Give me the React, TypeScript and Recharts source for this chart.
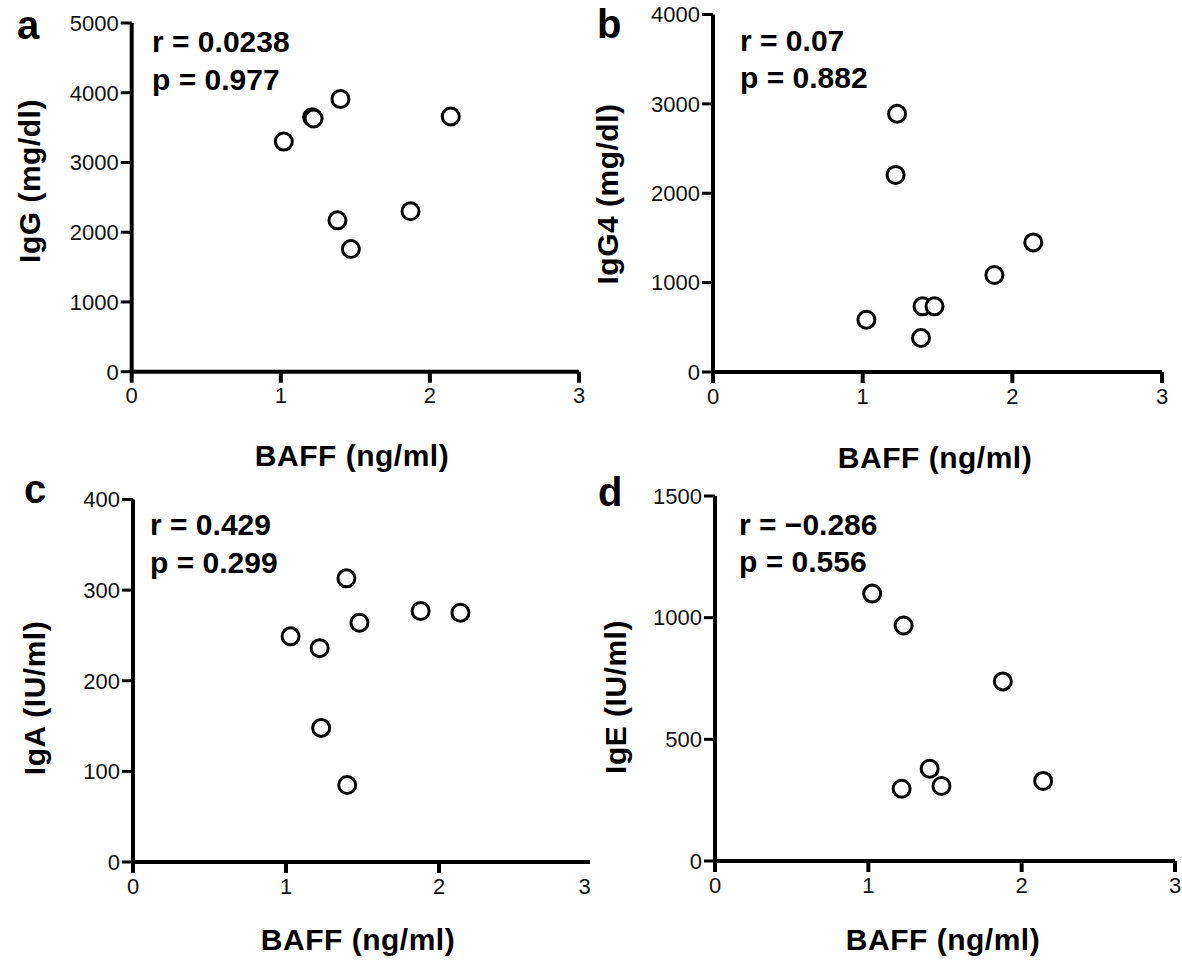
import React from "react";
import { ScatterChart, Scatter, XAxis, YAxis } from "recharts";

// BAFF (ng/ml) vs immunoglobulin levels
const baffA = [1.02, 1.21, 1.22, 1.4, 2.14, 1.38, 1.47, 1.87];
const iggA = [3300, 3650, 3630, 3910, 3660, 2170, 1760, 2300];

const baffB = [1.23, 1.22, 2.14, 1.88, 1.4, 1.48, 1.025, 1.39];
const igg4B = [2890, 2205, 1450, 1085, 735, 735, 585, 380];

const baffC = [1.395, 1.88, 2.14, 1.48, 1.03, 1.22, 1.23, 1.4];
const igaC = [313, 277, 275, 264, 249, 236, 148, 85];

const baffD = [1.025, 1.23, 1.877, 1.4, 1.477, 1.217, 2.14];
const igeD = [1099, 968, 738, 379, 308, 297, 329];

const xTicks = [0, 1, 2, 3];
const yTicksA = [0, 1000, 2000, 3000, 4000, 5000];
const yTicksB = [0, 1000, 2000, 3000, 4000];
const yTicksC = [0, 100, 200, 300, 400];
const yTicksD = [0, 500, 1000, 1500];

const FONT = '"Liberation Sans", Arial, sans-serif';

const toRows = (xs: number[], ys: number[]) => xs.map((x, i) => ({ x, y: ys[i] }));

const Ring = (props: any) => {
  const { cx, cy } = props;
  if (cx == null || cy == null) return null;
  return <circle cx={cx} cy={cy} r={8.5} fill="#fff" stroke="#000" strokeWidth={3} />;
};

type PanelProps = {
  box: { left: number; top: number; width: number; height: number };
  plot: { left: number; top: number; right: number; bottom: number };
  xs: number[];
  ys: number[];
  yTicks: number[];
};

function Panel({ box, plot, xs, ys, yTicks }: PanelProps) {
  const yMax = yTicks[yTicks.length - 1];
  const tick = { fill: "#111", fontSize: 22, fontFamily: FONT };
  return (
    <div style={{ position: "absolute", left: box.left, top: box.top }}>
      <ScatterChart
        width={box.width}
        height={box.height}
        margin={{
          top: plot.top - box.top,
          right: box.left + box.width - plot.right,
          left: 0,
          bottom: 0,
        }}
      >
        <XAxis
          type="number"
          dataKey="x"
          domain={[0, 3]}
          ticks={xTicks}
          height={box.top + box.height - plot.bottom}
          tickSize={11}
          tickMargin={5}
          tick={tick}
          axisLine={{ stroke: "#000", strokeWidth: 4 }}
          tickLine={{ stroke: "#000", strokeWidth: 4 }}
        />
        <YAxis
          type="number"
          dataKey="y"
          domain={[0, yMax]}
          ticks={yTicks}
          width={plot.left - box.left}
          tickSize={11}
          tickMargin={2}
          tick={tick}
          axisLine={{ stroke: "#000", strokeWidth: 4 }}
          tickLine={{ stroke: "#000", strokeWidth: 3 }}
        />
        <Scatter data={toRows(xs, ys)} shape={<Ring />} isAnimationActive={false} />
      </ScatterChart>
    </div>
  );
}

export default function App() {
  const bold = { fontFamily: FONT, fontWeight: 700, fill: "#000" };
  const title = { ...bold, fontSize: 30, letterSpacing: 0.5 };
  return (
    <div style={{ position: "absolute", left: 0, top: 0, width: 1182, height: 960, background: "#fff" }}>
      <Panel
        box={{ left: 0, top: 0, width: 590, height: 480 }}
        plot={{ left: 131.7, top: 23, right: 579, bottom: 371.7 }}
        xs={baffA}
        ys={iggA}
        yTicks={yTicksA}
      />
      <Panel
        box={{ left: 590, top: 0, width: 592, height: 480 }}
        plot={{ left: 713, top: 14.5, right: 1162, bottom: 372 }}
        xs={baffB}
        ys={igg4B}
        yTicks={yTicksB}
      />
      <Panel
        box={{ left: 0, top: 480, width: 590, height: 480 }}
        plot={{ left: 133, top: 499.5, right: 592, bottom: 862 }}
        xs={baffC}
        ys={igaC}
        yTicks={yTicksC}
      />
      <Panel
        box={{ left: 590, top: 480, width: 592, height: 480 }}
        plot={{ left: 715, top: 496, right: 1175, bottom: 861 }}
        xs={baffD}
        ys={igeD}
        yTicks={yTicksD}
      />
      <svg
        width={1182}
        height={960}
        style={{ position: "absolute", left: 0, top: 0, pointerEvents: "none" }}
      >
        {/* panel letters */}
        <text x={17} y={39} fontSize={40} {...bold}>a</text>
        <text x={597} y={38} fontSize={40} {...bold}>b</text>
        <text x={24} y={503} fontSize={40} {...bold}>c</text>
        <text x={598} y={506} fontSize={40} {...bold}>d</text>

        {/* statistics */}
        <text x={152} y={52} fontSize={30} {...bold}>r = 0.0238</text>
        <text x={152} y={90} fontSize={30} {...bold}>p = 0.977</text>
        <text x={740} y={51} fontSize={30} {...bold}>r = 0.07</text>
        <text x={740} y={88} fontSize={30} {...bold}>p = 0.882</text>
        <text x={150} y={535} fontSize={30} {...bold}>r = 0.429</text>
        <text x={150} y={573} fontSize={30} {...bold}>p = 0.299</text>
        <text x={739} y={535} fontSize={30} {...bold}>r = −0.286</text>
        <text x={739} y={572} fontSize={30} {...bold}>p = 0.556</text>

        {/* x axis titles */}
        <text x={352} y={466} textAnchor="middle" {...title}>BAFF (ng/ml)</text>
        <text x={935} y={468} textAnchor="middle" {...title}>BAFF (ng/ml)</text>
        <text x={358} y={950} textAnchor="middle" {...title}>BAFF (ng/ml)</text>
        <text x={943} y={950} textAnchor="middle" {...title}>BAFF (ng/ml)</text>

        {/* y axis titles */}
        <text transform="translate(40,181) rotate(-90)" textAnchor="middle" {...title}>IgG (mg/dl)</text>
        <text transform="translate(618,194) rotate(-90)" textAnchor="middle" {...title}>IgG4 (mg/dl)</text>
        <text transform="translate(45,698) rotate(-90)" textAnchor="middle" {...title}>IgA (IU/ml)</text>
        <text transform="translate(626,697) rotate(-90)" textAnchor="middle" {...title}>IgE (IU/ml)</text>
      </svg>
    </div>
  );
}
